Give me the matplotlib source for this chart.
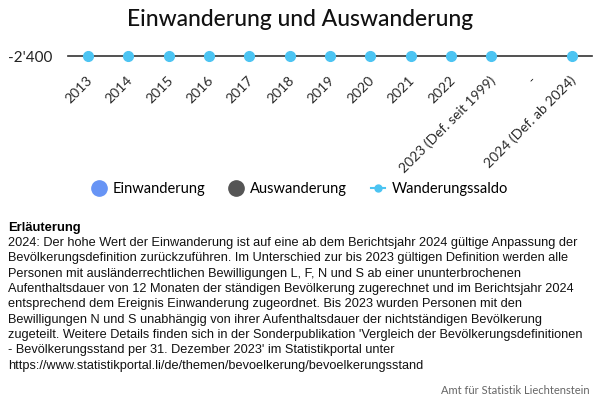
import numpy as np
from matplotlib import pyplot as plt
from matplotlib.lines import Line2D
from matplotlib.transforms import ScaledTranslation

categories = ['2013', '2014', '2015', '2016', '2017', '2018', '2019', '2020',
              '2021', '2022', '2023 (Def. seit 1999)', '-', '2024 (Def. ab 2024)']
saldo = [-2400, -2400, -2400, -2400, -2400, -2400, -2400, -2400,
         -2400, -2400, -2400, np.nan, -2400]
y_ticks = [-2400]
y_tick_labels = ["-2'400"]

note_title = 'Erläuterung'
note_text = ("2024: Der hohe Wert der Einwanderung ist auf eine ab dem Berichtsjahr 2024 gültige Anpassung der\n"
             "Bevölkerungsdefinition zurückzuführen. Im Unterschied zur bis 2023 gültigen Definition werden alle\n"
             "Personen mit ausländerrechtlichen Bewilligungen L, F, N und S ab einer ununterbrochenen\n"
             "Aufenthaltsdauer von 12 Monaten der ständigen Bevölkerung zugerechnet und im Berichtsjahr 2024\n"
             "entsprechend dem Ereignis Einwanderung zugeordnet. Bis 2023 wurden Personen mit den\n"
             "Bewilligungen N und S unabhängig von ihrer Aufenthaltsdauer der nichtständigen Bevölkerung\n"
             "zugeteilt. Weitere Details finden sich in der Sonderpublikation 'Vergleich der Bevölkerungsdefinitionen\n"
             "- Bevölkerungsstand per 31. Dezember 2023' im Statistikportal unter\n"
             "https://www.statistikportal.li/de/themen/bevoelkerung/bevoelkerungsstand")

plt.rcParams['font.family'] = ['Lato', 'DejaVu Sans']

fig = plt.figure(figsize=(6, 4), dpi=100)
fig.patch.set_facecolor('white')

# flat plot area, the bottom spine is the -2'400 line
ax = fig.add_axes([68/600, 1 - 56/400, 524/600, 1/400])
x = np.arange(len(categories))
ax.plot(x, saldo, color='#4cc4f2', marker='o', markersize=7, linestyle='none', clip_on=False, zorder=3)
ax.set_xlim(-0.5, len(categories) - 0.5)
ax.set_ylim(-2400, -2399)
for s in ['top', 'right', 'left']:
    ax.spines[s].set_visible(False)
ax.spines['bottom'].set_color('#333333')
ax.spines['bottom'].set_linewidth(1.2)
ax.set_yticks(y_ticks)
ax.set_yticklabels(y_tick_labels, fontsize=11, color='#222222')
ax.set_xticks(x)
ax.set_xticklabels(categories, rotation=45, ha='right', rotation_mode='anchor', fontsize=10, color='#2a2a2a')
ax.tick_params(axis='both', length=0)
ax.tick_params(axis='y', pad=11.5)
ax.tick_params(axis='x', pad=13)
shift = ScaledTranslation(-2/100, 0, fig.dpi_scale_trans)
for lbl in ax.get_xticklabels():
    lbl.set_transform(lbl.get_transform() + shift)

fig.text(0.5, 1 - 20/400, 'Einwanderung und Auswanderung', ha='center', va='center', fontsize=16.5,
         fontweight='medium', color='#111111')

handles = [Line2D([], [], linestyle='none', marker='o', markersize=11, color='#6794f5'),
           Line2D([], [], linestyle='none', marker='o', markersize=11, color='#555555'),
           Line2D([], [], color='#4cc4f2', marker='o', markersize=5, linewidth=1.5)]
fig.legend(handles, ['Einwanderung', 'Auswanderung', 'Wanderungssaldo'], loc='center',
           bbox_to_anchor=(0.5, 1 - 189/400), ncol=3, frameon=False, fontsize=10.5,
           handlelength=1.0, handletextpad=0.45, columnspacing=1.6)

fig.text(8/600, 1 - 228/400, note_title, ha='left', va='center', fontsize=9.4, fontweight='bold',
         family='Liberation Sans')
fig.text(8/600, 1 - 237/400, note_text, ha='left', va='top', fontsize=9.2, linespacing=1.37,
         family='Liberation Sans', color='#111111')
fig.text(590/600, 1 - 391/400, 'Amt für Statistik Liechtenstein', ha='right', va='center', fontsize=8,
         color='#666666')

plt.savefig('out.png', dpi=100)
